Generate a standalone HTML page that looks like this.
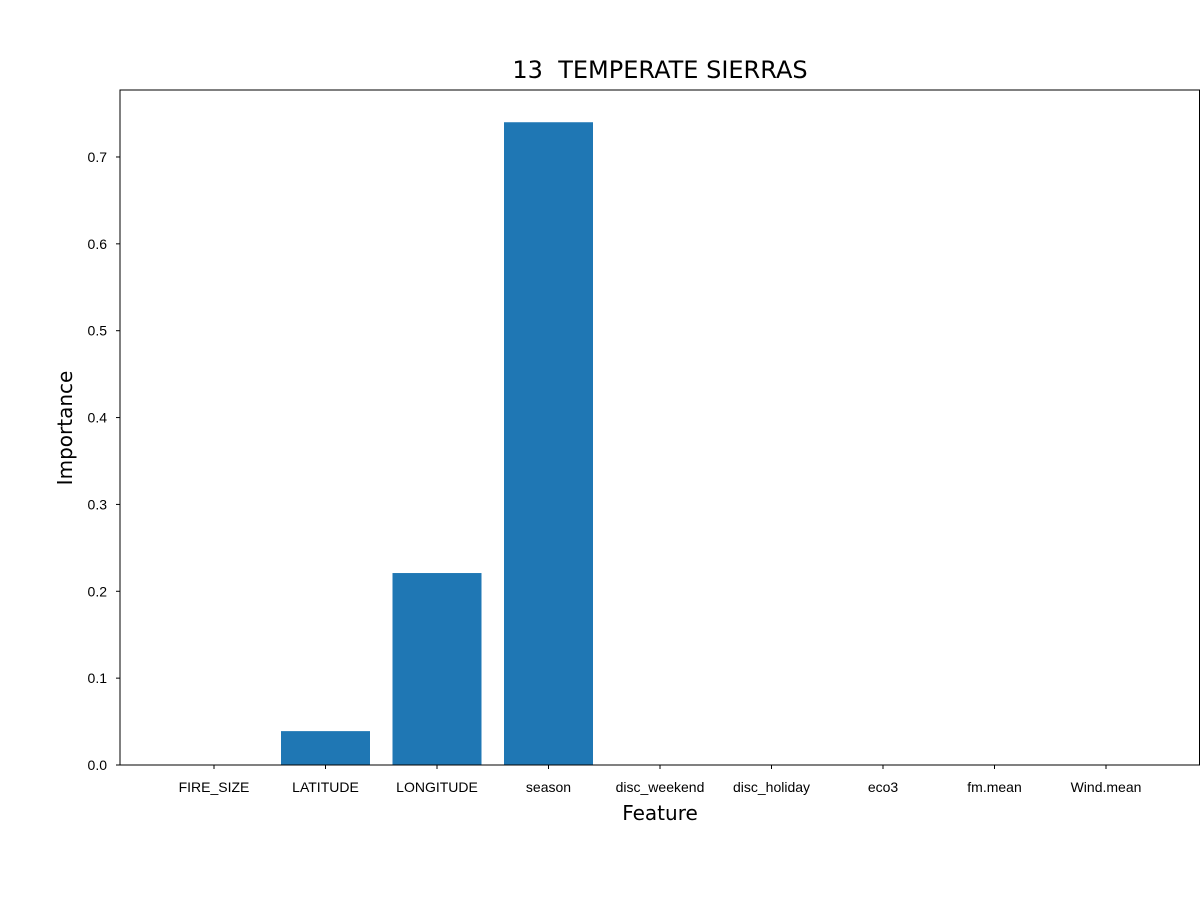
<!DOCTYPE html>
<html><head><meta charset="utf-8"><style>
body{margin:0;background:#fff;}
svg{display:block;font-family:"DejaVu Sans","Liberation Sans",sans-serif;}
.tick{font-family:"Liberation Sans",sans-serif;}
</style></head><body>
<svg id="chart" width="1200" height="900" xmlns="http://www.w3.org/2000/svg"></svg>
<script>
const categories=["FIRE_SIZE","LATITUDE","LONGITUDE","season","disc_weekend","disc_holiday","eco3","fm.mean","Wind.mean"];
const values=[0,0.039,0.221,0.740,0,0,0,0,0];
const yTicks=[0,0.1,0.2,0.3,0.4,0.5,0.6,0.7];
const yTickLabels=["0.0","0.1","0.2","0.3","0.4","0.5","0.6","0.7"];
const NS="http://www.w3.org/2000/svg";
const svg=document.getElementById('chart');
const L=120,R=1200,T=90,B=765;
function y(v){return B-v*868.6;}
function x(i){return 214+i*111.5;}
function mk(tag,attrs,parent){const e=document.createElementNS(NS,tag);for(const k in attrs)e.setAttribute(k,attrs[k]);(parent||svg).appendChild(e);return e;}
values.forEach((v,i)=>{
  const r=mk('rect',{x:x(i)-44.5,y:y(v),width:89,height:B-y(v),fill:'#1f77b4'});
  
  
});
const f=mk('rect',{x:L,y:T,width:R-L-0.5,height:B-T,fill:'none',stroke:'#000','stroke-width':1});


yTicks.forEach((t,i)=>{
  mk('line',{x1:L-4,x2:L,y1:y(t),y2:y(t),stroke:'#000'});
  const tx=mk('text',{x:L-13,y:y(t)+5,'text-anchor':'end','font-size':14,'class':'tick'});
  tx.textContent=yTickLabels[i];
  
  
});
categories.forEach((c,i)=>{
  mk('line',{x1:x(i),x2:x(i),y1:B,y2:B+4,stroke:'#000'});
  const tx=mk('text',{x:x(i),y:B+27,'text-anchor':'middle','font-size':14,'class':'tick'});
  tx.textContent=c;
  
  
});
const title=mk('text',{x:660,y:78,'text-anchor':'middle','font-size':24,style:'white-space:pre'});
title.textContent="13  TEMPERATE SIERRAS";


const xt=mk('text',{x:660,y:820,'text-anchor':'middle','font-size':20});
xt.textContent="Feature";


const yt=mk('text',{x:72,y:428,'text-anchor':'middle','font-size':20,transform:'rotate(-90 72 428)'});
yt.textContent="Importance";


</script>
</body></html>
